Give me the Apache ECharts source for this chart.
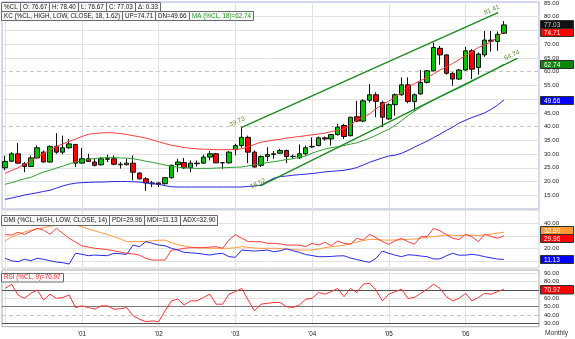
<!DOCTYPE html>
<html><head><meta charset="utf-8">
<script src="https://cdn.jsdelivr.net/npm/echarts@6/dist/echarts.min.js"></script>
<style>html,body{margin:0;padding:0;background:#fff}#c{width:575px;height:339px}</style>
</head><body><div id="c"></div>
<script>
// ---------- DATA ----------
const opens  = [25.0,27.4,30.1,26.5,25.5,28.6,30.7,27.1,32.8,30.7,32.3,33.5,26.7,28.3,27.1,26.1,28.1,28.3,26.3,26.1,26.7,23.1,21.0,19.5,19.5,19.2,21.4,26.1,26.9,25.0,26.7,26.7,28.9,30.1,26.8,26.8,31.6,33.1,36.1,30.7,25.9,29.1,29.8,30.3,31.3,29.1,28.6,30.1,32.6,33.1,35.9,35.5,37.1,40.4,36.7,43.6,42.0,49.6,51.6,48.8,42.8,48.0,51.6,55.2,49.1,51.9,56.1,60.3,68.5,66.1,59.4,57.3,60.6,67.6,61.5,66.1,71.5,71.0,74.0];
const closes = [27.3,30.1,26.7,25.5,28.6,32.3,27.1,32.8,30.7,32.3,33.7,26.7,28.3,27.3,25.9,28.3,28.3,26.3,26.1,26.7,23.4,21.0,19.5,19.2,19.0,21.4,25.9,27.1,25.0,26.7,26.5,28.9,30.1,26.8,26.9,30.7,33.1,36.1,30.7,25.3,29.1,29.8,30.1,31.3,29.1,29.2,30.1,32.3,32.8,35.9,35.5,37.1,39.8,36.4,43.4,42.0,49.4,51.6,49.2,43.4,48.0,51.6,55.2,49.1,51.6,56.1,60.3,68.8,66.1,59.4,57.3,60.6,67.6,60.9,66.4,71.5,71.1,73.6,77.03];
const lows   = [24.1,27.1,26.5,23.4,25.3,28.4,27.0,26.9,30.1,29.9,31.9,25.3,26.5,27.1,25.5,25.8,27.1,25.9,24.7,25.9,20.4,20.7,16.6,18.0,18.0,18.9,21.0,23.4,24.6,23.4,25.5,26.5,27.7,26.7,24.6,26.5,29.5,32.3,26.7,25.0,25.3,27.4,28.3,30.1,26.7,28.3,28.3,29.5,32.3,32.8,34.9,33.1,36.7,35.5,36.4,41.6,41.6,48.8,43.4,39.8,42.4,44.0,51.2,48.5,45.8,51.6,55.7,60.1,62.5,58.9,54.9,57.0,60.3,57.3,58.9,65.4,67.3,67.6,73.7];
const highs  = [29.4,30.7,34.0,27.1,29.5,33.1,31.3,33.1,37.6,36.7,35.5,33.7,32.3,30.1,28.3,28.9,29.8,29.5,27.1,28.3,29.5,23.4,21.6,20.2,19.8,21.6,26.2,28.3,28.6,27.7,27.7,29.8,31.1,30.4,27.1,31.1,33.7,39.73,36.7,31.3,29.5,32.5,31.1,31.9,31.6,29.8,33.5,33.1,36.1,36.4,36.4,37.3,41.0,41.0,43.6,49.4,50.0,55.5,52.5,49.4,48.5,52.1,57.9,57.9,52.1,60.6,60.6,70.6,69.4,66.4,59.8,61.0,69.0,68.2,67.0,74.8,74.8,74.6,78.40];

const kcUp = [23,24,25,26.3,27.4,28.8,30.2,31.5,32.7,33.7, 34.6,35.5,36.4,37.2,37.5,37.7,37.8,37.7,37.5,37.1, 36.7,36.3,35.8,35.2,34.5,33.8,33.2,32.8,32.4,32.1, 31.9,31.8,31.7,31.6,31.6,31.6,31.7,31.9,32.7,33.5, 34.3,34.7,35.1,35.4,35.8,36.1,36.4,36.7,37,37.3, 37.6,38.2,38.6,39.2,40.5,42.4,43.5,44.6,46.5,48, 49.3,50.8,52.4,54.4,55.6,56.8,57.8,59.2,60.6,61.7, 63,64.4,65.8,67.2,68.8,69.8,70.8,72.6,74.71];
const kcMa = [19,19.6,20.3,21,21.5,22.5,23.5,24.1,24.9,25.6, 26.4,27.1,27.6,28.1,28.4,28.6,28.7,28.7,28.6,28.5, 28.3,27.9,27.4,27,26.5,26,25.6,25.2,25,24.9, 24.8,24.8,24.8,24.9,25,25.1,25.2,25.3,25.7,26.1, 26.5,26.9,27.2,27.6,28,28.3,28.8,29.3,30.3,31.1, 31.8,32.3,32.7,33.1,33.6,34.1,34.9,35.8,36.8,38, 39,40.5,42.2,44,45.6,47.1,48.4,49.6,50.8,51.9, 53,54.1,55.2,56.4,57.7,58.9,60.1,61.3,62.74];
const kcDn = [13.5,14,14.5,15.1,15.5,15.9,16.4,16.8,17.6,18.4, 19,19.4,19.6,19.7,19.8,19.8,19.9,20,20,20, 19.9,19.8,19.5,19.2,19,18.5,18.1,18,18,18, 18,18,18,18,18,18,18,18,18.2,18.4, 18.7,20,21.2,21.8,22,22.3,22.5,22.7,22.9,23.2, 23.5,23.7,23.9,24.1,24.5,25.1,26,27,27.8,28.6, 29.3,29.6,30.3,31.3,32.5,33.6,34.7,36,37.2,38.6, 39.8,41.3,42.3,43.3,44.1,45,46.3,47.8,49.66];

const trendUpper = [[37, 39.73], [77, 81.41]];
const trendLower = [[40, 18.52], [80, 64.74]];

const pdi = [31,30.6,32.8,31.2,33.5,36,34.6,31.2,36,32, 28,25,22,21,20,19.5,19,18,17,16, 15.5,14.5,12,10.6,10.6,10.6,18.5,19,20,20.5, 20.5,20.5,21,21.3,20,26.6,31,28,25.5,25.3, 25.3,24,24,23.5,22.6,22.6,22.6,21.3,24,22.6, 24.8,22.1,25.8,24,23.2,28,26.6,31.2,28.5,25.3, 23.2,26,28,25.3,23.2,29.3,29.3,36,34,31, 28,27,31.2,29.3,25.3,31.2,29.5,28,29.96];
const mdi = [12,10,9.3,11.2,10.1,12,11.2,10.1,9,8.5, 7.4,16,15.2,14.1,14.6,14.3,14.1,16,15.6,15.2, 22.6,21.3,25.3,24,22.6,22,20,18.6,16.8,16.4, 16,15.3,14.6,15.5,16,13.3,12.8,18.6,18.2,17.8, 18.2,18.6,17.3,18,19.6,18,16.8,15,14.2,13.3, 13.3,13.5,13.9,14,12.2,11,9.8,8.8,12,17.8, 16,14.5,13.3,14.8,14.5,13.8,13.3,11.5,11.5,14, 16,14.5,14.5,15.2,14.5,13.3,12.3,11.4,11.13];
const adx = [26,29,31,33,34.5,35.5,36.5,37.5,38.5,39.5, 40,38.5,37.3,35.5,34,32.5,31,29.3,27.5,25.3, 25.3,25.3,25.6,26,26.5,26.6,24.5,23,21.8,21, 20.5,20.3,20,20,20,20,20.5,21.3,20.8,20.2, 20,20,20,19.8,19.4,19,18.6,18.6,18.6,19.5, 20.5,21.2,21.8,22.5,23.8,25,26.2,27.2,27,26.6, 26.6,26.6,26.9,27.2,27.4,28,28.8,29.3,30,30.6, 30.4,30.1,30.5,30.5,30.1,30.8,31.4,32.1,32.9];
const rsi = [72,77,64,60,66,70,58,65,60,61, 64,49,51,49,47,51,51,47,47.5,49, 39,35,32,33,32,45,57,59,52,57, 57,61,65,53,53,65,68,72,58,45, 53,54,55,55,50,49,52,59,60,67, 65,68,72,62,72,67,77,78,70,57, 65,68,71,60,61,66,71,77,72,62, 57,60,66,57,61,66,65,68,70.97];

const yearLabels = ["'01","'02","'03","'04","'05","'06"];
const mainTicks = [15,20,25,30,35,40,45,50,55,60,65,70,75,80,85];
const dmiTicks = [20,40];
const rsiTicks = [30,40,50,60,70,80,90];
const quote = {o: 76.67, h: 78.40, l: 76.67, c: 77.03, d: 0.33};

// ---------- CHART ----------
const FF = '"Liberation Sans", Arial, sans-serif';
const nCats = 84;
const cats = [];
for (let i = 0; i < nCats; i++) { const y = 2000 + Math.floor(i / 12), m = i % 12 + 1; cats.push(y + '-' + (m < 10 ? '0' : '') + m); }
const yearIdx = [0, 12, 24, 36, 48, 60, 72];

const light = {color: '#e2e2e2', width: 1, type: 'solid'};
const dash = {color: '#c6c6c6', width: 1, type: [4, 3]};
function hL(vals, st) { return vals.map(v => ({yAxis: v, lineStyle: st})); }
function vL(st) { return yearIdx.map(i => ({xAxis: cats[i], lineStyle: st})); }
function ml(data) { return {silent: true, symbol: ['none', 'none'], label: {show: false}, animation: false, z: 1, emphasis: {disabled: true}, data: data}; }

const chart = echarts.init(document.getElementById('c'), null, {renderer: 'canvas'});

const grids = [
  {left: 2, top: 1, width: 537, height: 208, show: true, borderColor: '#a9b0e3', borderWidth: 1},
  {left: 2, top: 210, width: 537, height: 58, show: true, borderColor: '#cfcfcf', borderWidth: 1},
  {left: 2, top: 270, width: 537, height: 56.7, show: true, borderColor: '#a8a8a8', borderWidth: 1}
];
function yearFmt(v, i) {
  if (i > 0 && i % 12 === 0 && i / 12 <= yearLabels.length) return yearLabels[i / 12 - 1];
  return '';
}
function xA(g, showLabel) {
  const lab = showLabel
    ? {show: true, interval: 0, margin: 5, fontSize: 6.3, fontFamily: FF, color: '#222', formatter: yearFmt}
    : {show: false};
  return {type: 'category', gridIndex: g, data: cats, boundaryGap: true,
    axisLine: {show: false}, axisTick: {show: false}, splitLine: {show: false}, axisLabel: lab};
}
function yA(g, min, max, ticks) {
  return {type: 'value', gridIndex: g, position: 'right', min: min, max: max, scale: true,
    axisLine: {show: false}, axisTick: {show: false}, splitLine: {show: false},
    axisLabel: {show: true, customValues: ticks, margin: 5, fontSize: 6, fontFamily: FF, color: '#222',
      formatter: function (v) { return v.toFixed(2); }}};
}
function trendData(pts, offs) {
  return pts.map(function (p, k) {
    return {value: p, label: {show: true, position: 'inside', offset: offs[k], rotate: 24,
      formatter: function (q) { return q.value[1].toFixed(2); }, color: '#5a8f2a', fontSize: 6.5, fontFamily: FF}};
  });
}
function ln(extra) {
  return Object.assign({type: 'line', symbol: 'none', animation: false, silent: true}, extra);
}

const mainGrid = hL([15,20,25,30,35,45,50,55,65,70,75,80], light).concat(hL([40, 60], dash)).concat(vL(light));
const dmiGrid = hL([10, 20, 30, 40], light).concat(vL(light));
const rsiGrid = hL([60, 80, 90], light).concat(hL([40], dash)).concat(vL(light))
  .concat(hL([70, 30], {color: '#505050', width: 1.2, type: 'solid'}))
  .concat(hL([50], {color: '#7a7a7a', width: 1.2, type: 'solid'}));

chart.setOption({
  animation: false,
  backgroundColor: '#fff',
  grid: grids,
  xAxis: [xA(0, false), xA(1, false), xA(2, true)],
  yAxis: [yA(0, 10, 85.36, mainTicks), yA(1, 4.24, 50.64, dmiTicks), yA(2, 26, 94, rsiTicks)],
  series: [
    {type: 'candlestick', xAxisIndex: 0, yAxisIndex: 0, barWidth: 5, silent: true, animation: false, z: 3,
      data: opens.map(function (o, i) { return [o, closes[i], lows[i], highs[i]]; }),
      itemStyle: {color: '#00c400', color0: '#ff0000', borderColor: '#101010', borderColor0: '#101010', borderWidth: 1},
      markLine: ml(mainGrid)},
    ln({xAxisIndex: 0, yAxisIndex: 0, data: kcUp, z: 4, lineStyle: {width: 1, color: '#ff3c3c'}}),
    ln({xAxisIndex: 0, yAxisIndex: 0, data: kcMa, z: 4, lineStyle: {width: 1, color: '#2f9f2f'}}),
    ln({xAxisIndex: 0, yAxisIndex: 0, data: kcDn, z: 4, lineStyle: {width: 1, color: '#2626e0'}}),
    ln({xAxisIndex: 0, yAxisIndex: 0, z: 5, symbol: 'circle', symbolSize: 1.5, itemStyle: {color: '#1d8a1d'},
      lineStyle: {width: 1.4, color: '#1d8a1d'}, data: trendData(trendUpper, [[-2, -7], [-4, -5]])}),
    ln({xAxisIndex: 0, yAxisIndex: 0, z: 5, symbol: 'circle', symbolSize: 1.5, itemStyle: {color: '#1d8a1d'},
      lineStyle: {width: 1.4, color: '#1d8a1d'}, data: trendData(trendLower, [[-2, -3], [-3, -5]])}),
    ln({xAxisIndex: 1, yAxisIndex: 1, data: adx, z: 4, lineStyle: {width: 1, color: '#ff9a3c'}, markLine: ml(dmiGrid)}),
    ln({xAxisIndex: 1, yAxisIndex: 1, data: pdi, z: 4, lineStyle: {width: 1, color: '#ff3c3c'}}),
    ln({xAxisIndex: 1, yAxisIndex: 1, data: mdi, z: 4, lineStyle: {width: 1, color: '#2a2ae6'}}),
    ln({xAxisIndex: 2, yAxisIndex: 2, data: rsi, z: 4, lineStyle: {width: 1, color: '#ff3030'}, markLine: ml(rsiGrid)})
  ]
});

// ---------- ANNOTATION BOXES ----------
const HF = 6.3;
const mctx = document.createElement('canvas').getContext('2d');
function tw(t, s) { mctx.font = s + 'px ' + FF; return mctx.measureText(t).width; }
const els = [];
function row(items, x0, y0, h) {
  let x = x0;
  items.forEach(function (it) {
    const w = Math.round(tw(it.t, HF) + 5);
    els.push({type: 'rect', z: 100, silent: true, shape: {x: x + 0.5, y: y0 + 0.5, width: w, height: h},
      style: {fill: '#f7f7f7', stroke: '#6a6a6a', lineWidth: 1}});
    els.push({type: 'text', z: 101, silent: true, x: x + 3, y: y0 + 0.5 + h / 2,
      style: {text: it.t, fill: it.c || '#1a1a1a', font: HF + 'px ' + FF, verticalAlign: 'middle', align: 'left'}});
    x += w;
  });
}
function last(a) { return a[a.length - 1]; }
function f2(v) { return v.toFixed(2); }
row([{t: '%CL'}, {t: 'O: ' + f2(quote.o)}, {t: 'H: ' + f2(quote.h)}, {t: 'L: ' + f2(quote.l)}, {t: 'C: ' + f2(quote.c)}, {t: '\u0394: ' + f2(quote.d)}], 1, 2, 9);
row([{t: 'KC (%CL, HIGH, LOW, CLOSE, 18, 1.62)'}, {t: 'UP=' + f2(last(kcUp))}, {t: 'DN=' + f2(last(kcDn))}, {t: 'MA (%CL, 18)=' + f2(last(kcMa)), c: '#1e9a1e'}], 1, 11, 9);
row([{t: 'DMI (%CL, HIGH, LOW, CLOSE, 14)'}, {t: 'PDI=' + f2(last(pdi))}, {t: 'MDI=' + f2(last(mdi))}, {t: 'ADX=' + f2(last(adx))}], 1, 215, 10);
row([{t: 'RSI (%CL, 9)=' + f2(last(rsi)), c: '#ff2020'}], 1, 273, 8.5);

function valueBoxes(list, yAxisIndex, h) {
  const items = list.map(function (d) { return Object.assign({}, d, {y: chart.convertToPixel({yAxisIndex: yAxisIndex}, d.v)}); });
  const sorted = items.slice().sort(function (a, b) { return a.y - b.y; });
  for (let k = 0; k < 3; k++) {
    for (let i = 1; i < sorted.length; i++) {
      const a = sorted[i - 1], b = sorted[i], ov = h - (b.y - a.y);
      if (ov > 0) { a.y -= ov / 2; b.y += ov / 2; }
    }
  }
  items.forEach(function (d) {
    const top = Math.round(d.y - h / 2) + 0.5;
    els.push({type: 'rect', z: 110, silent: true, shape: {x: 540.5, y: top, width: 33, height: h},
      style: {fill: d.bg, stroke: '#303030', lineWidth: 1}});
    els.push({type: 'text', z: 111, silent: true, x: 544, y: top + h / 2 + 0.5,
      style: {text: f2(d.v), fill: d.fg, font: '6.5px ' + FF, verticalAlign: 'middle', align: 'left'}});
  });
}
valueBoxes([{v: last(closes), bg: '#111111', fg: '#cfcfcf'}, {v: last(kcUp), bg: '#ff0000', fg: '#ffffff'},
  {v: last(kcMa), bg: '#0a870a', fg: '#ffffff'}, {v: last(kcDn), bg: '#0000ff', fg: '#ffffff'}], 0, 8);
valueBoxes([{v: last(pdi), bg: '#ff0000', fg: '#ffffff'}, {v: last(adx), bg: '#ff9933', fg: '#ffffff'}, {v: last(mdi), bg: '#0000ff', fg: '#ffffff'}], 1, 8);
valueBoxes([{v: last(rsi), bg: '#ff0000', fg: '#ffffff'}], 2, 8.5);

els.push({type: 'text', z: 101, silent: true, x: 545, y: 333,
  style: {text: 'Monthly', fill: '#333', font: '6.6px ' + FF, verticalAlign: 'middle', align: 'left'}});

chart.setOption({graphic: els});
</script>
</body></html>
